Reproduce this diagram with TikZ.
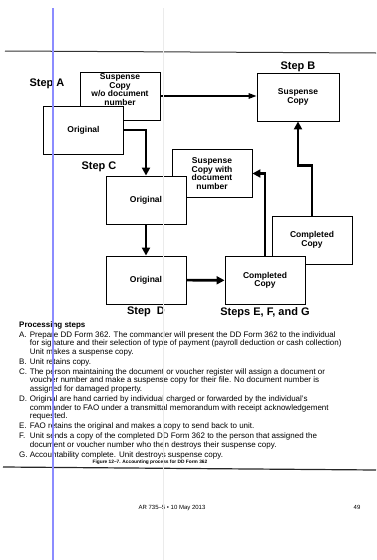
\documentclass[tikz,border=0pt]{standalone}
\usepackage{fontspec}
\setmainfont{Liberation Sans}
\usetikzlibrary{arrows.meta,positioning}

\begin{document}
\begin{tikzpicture}
	[ x=1pt, y=-1pt, node distance=1mm and 15mm,
		construct/.style={rectangle,draw,fill=white,line width=0.9pt,minimum width=80pt,minimum height=48pt,align=center,font=\bfseries\fontsize{8.5}{8.5}\selectfont},
		boxText/.style={align=center,inner sep=2pt,font=\bfseries\fontsize{8.5}{8.5}\selectfont},
		stepLabel/.style={font=\bfseries\fontsize{11}{12}\selectfont,inner sep=1pt},
		arrowOut/.style={-{Triangle[length=8pt,width=8pt]},line width=2.6pt},
		arrowThin/.style={-{Triangle[length=8pt,width=5.5pt]},line width=1.4pt}]

	\useasboundingbox (0,0) rectangle (376,560);
	\draw[line width=1pt,black!80] (5,51) -- (376,53);

	% Step A
	\node[construct] (sus copy) at (120,96) {};
	\node[boxText,below=0pt of sus copy.north] (sus text) {Suspense\\Copy\\w/o document\\number};
	\node[construct] (orig A) at (83.5,130) {Original};
	\node[stepLabel] (step A) at (47,84) {Step A};

	% Step B
	\node[construct,minimum width=82pt] (sus B) at (298,97) {Suspense\\Copy};
	\node[stepLabel,above=0pt of sus B] (step B) {Step B};

	% Step C
	\node[construct] (sus with) at (212,173.5) {Suspense\\Copy with\\document\\number};
	\node[construct] (orig C) at (146,200) {Original};
	\node[stepLabel] (step C) at (99,167) {Step C};

	% Step D
	\node[construct] (orig D) at (146,280) {Original};
	\node[stepLabel,below=1pt of orig D] (step D) {Step\ \ D};

	% Steps E, F and G
	\node[construct] (comp R) at (312,240) {Completed\\Copy};
	\node[construct] (comp C) at (265,280.5) {Completed\\Copy};
	\node[stepLabel,below=1pt of comp C] (step EFG) {Steps E, F, and G};

	\draw[arrowThin] (sus copy.east) -- (sus copy.east -| sus B.west);
	\draw[arrowOut] (orig A.east) -| (orig C.north);
	\draw[arrowOut] (orig C) -- (orig D);
	\draw[arrowOut] (orig D) -- (comp C);
	\draw[arrowOut] (comp C.north) |- (sus with.east);
	\draw[arrowOut] (comp R.north) -- ++(0,-50) -| (sus B.south);

	% processing steps
	\node[anchor=base west,inner sep=0pt,font=\fontsize{8}{8.6}\selectfont] (proc steps) at (19,327) {%
		\begin{tabular}[t]{@{}l@{ }l}
		\multicolumn{2}{@{}l}{\bfseries Processing steps}\\[1.4pt]
		A. & Prepare DD Form 362. The commander will present the DD Form 362 to the individual\\
		   & for signature and their selection of type of payment (payroll deduction or cash collection)\\
		   & Unit makes a suspense copy.\\[1.4pt]
		B. & Unit retains copy.\\[1.4pt]
		C. & The person maintaining the document or voucher register will assign a document or\\
		   & voucher number and make a suspense copy for their file. No document number is\\
		   & assigned for damaged property.\\[1.4pt]
		D. & Original are hand carried by individual charged or forwarded by the individual's\\
		   & commander to FAO under a transmittal memorandum with receipt acknowledgement\\
		   & requested.\\[1.4pt]
		E. & FAO retains the original and makes a copy to send back to unit.\\[1.4pt]
		F. & Unit sends a copy of the completed DD Form 362 to the person that assigned the\\
		   & document or voucher number who then destroys their suspense copy.\\[1.4pt]
		G. & Accountability complete. Unit destroys suspense copy.
		\end{tabular}};
	\node[anchor=base,inner sep=0pt,font=\bfseries\fontsize{4.8}{5}\selectfont] (fig caption) at (150,463) {Figure 12--7. Accounting process for DD Form 362};
	\draw[line width=1.2pt,black!85] (3,467) -- (376,470);

	% footer
	\node[anchor=base,inner sep=0pt,font=\fontsize{6}{7}\selectfont] (footer) at (172,509) {AR 735--5 • 10 May 2013};
	\node[anchor=base,inner sep=0pt,font=\fontsize{6}{7}\selectfont] (page num) at (357,509) {49};

	% scanner marks
	\draw[black!8,line width=0.6pt] (163,8) -- (163,560);
	\draw[blue!45!white,line width=2pt] (53,8) -- (53,560);
\end{tikzpicture}
\end{document}
